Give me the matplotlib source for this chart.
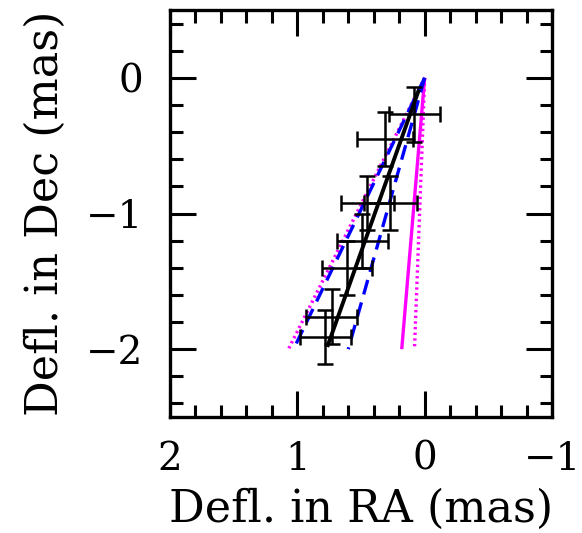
import matplotlib
matplotlib.use("Agg")
import matplotlib.pyplot as plt
from matplotlib.ticker import MultipleLocator
import numpy as np

# Measured deflections (mas) with 1-sigma errors
ra = [0.08, 0.31, 0.27, 0.45, 0.49, 0.61, 0.73, 0.78]
dec = [-0.27, -0.45, -0.92, -0.92, -1.20, -1.40, -1.76, -1.91]
ra_err = [0.20, 0.22, 0.21, 0.21, 0.20, 0.20, 0.20, 0.20]
dec_err = [0.20, 0.20, 0.20, 0.20, 0.20, 0.20, 0.20, 0.20]

# Best-fit track (black) and its bounds (blue dashed)
fit_ra = [0.05, 0.76]
fit_dec = [-0.10, -1.97]
bound_lo_ra = [0.0, 1.03]
bound_hi_ra = [0.0, 0.60]
bound_dec = [0.0, -2.0]

# Model predictions (magenta)
model_solid_ra = [0.0, 0.18]
model_dot_a_ra = [0.0, 1.07]
model_dot_b_ra = [0.0, 0.08]
model_dec = [0.0, -2.0]

xticks = [2, 1, 0, -1]
yticks = [0, -1, -2]

W, H = 582, 533
fig = plt.figure(figsize=(W / 100, H / 100), dpi=100)
ax = fig.add_axes([170 / W, 1 - 417 / H, (552 - 170) / W, (417 - 10) / H])

mag = "#ff00ff"
ax.plot(model_solid_ra, model_dec, color=mag, lw=2.4, solid_capstyle="butt")
ax.plot(model_dot_a_ra, model_dec, color=mag, lw=2.4, linestyle=(0, (0.7, 1.0)))
ax.plot(model_dot_b_ra, model_dec, color=mag, lw=2.4, linestyle=(0, (0.7, 1.0)))
ax.plot(bound_lo_ra, bound_dec, color="#0000ff", lw=2.4, linestyle=(0, (4.5, 2.5)))
ax.plot(bound_hi_ra, bound_dec, color="#0000ff", lw=2.4, linestyle=(0, (4.5, 2.5)))
ax.errorbar(ra, dec, xerr=ra_err, yerr=dec_err, fmt="none", ecolor="black",
            elinewidth=1.8, capsize=5.5, capthick=1.8)
ax.plot(fit_ra, fit_dec, color="black", lw=2.8)

ax.set_xlim(2, -1)
ax.set_ylim(-2.5, 0.5)
ax.set_xticks(xticks)
ax.set_yticks(yticks)
ax.set_xticklabels(["2", "1", "0", "\u22121"])
ax.set_yticklabels(["0", "\u22121", "\u22122"])
ax.xaxis.set_minor_locator(MultipleLocator(0.2))
ax.yaxis.set_minor_locator(MultipleLocator(0.2))

for s in ax.spines.values():
    s.set_linewidth(2.4)
ax.tick_params(which="both", direction="in", top=True, right=True, width=2.2)
ax.tick_params(which="major", length=19, labelsize=28)
ax.tick_params(axis="x", which="major", pad=17)
ax.tick_params(axis="y", which="major", pad=19)
ax.tick_params(which="minor", length=9)
for lab in ax.get_xticklabels() + ax.get_yticklabels():
    lab.set_family("DejaVu Serif")

ax.set_xlabel("Defl. in RA (mas)", family="DejaVu Serif", fontsize=32, labelpad=7)
ax.set_ylabel("Defl. in Dec (mas)", family="DejaVu Serif", fontsize=32, labelpad=14)

fig.savefig("out.png", dpi=100)
